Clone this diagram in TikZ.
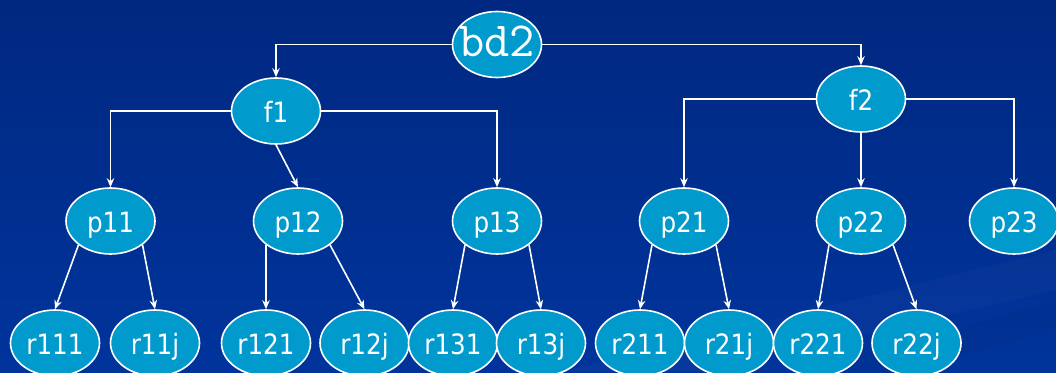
\documentclass[tikz,border=0pt]{standalone}
\usepackage{fontspec}
\setmainfont{DejaVu Sans}[FakeStretch=0.88]
\usetikzlibrary{shapes.geometric,arrows.meta}
\definecolor{bgtop}{RGB}{0,40,128}
\definecolor{bgbot}{RGB}{0,52,156}
\definecolor{nodefill}{RGB}{0,155,204}
\tikzset{
  treenode/.style={ellipse, draw=white, line width=1.6pt, fill=nodefill, text=white,
    minimum width=89pt, minimum height=66pt, inner sep=0pt,
    text height=24pt, text depth=0.3pt,
    font=\fontsize{28}{28}\selectfont},
  link/.style={draw=white, line width=1.6pt, -{Stealth[length=9pt,width=7.5pt]}}
}
\begin{document}
\begin{tikzpicture}[x=1pt,y=-1pt]
\useasboundingbox (0,0) rectangle (1056,372);
\clip (0,0) rectangle (1056,372);
\shade[top color=bgtop, bottom color=bgbot] (0,0) rectangle (1056,372);
\fill[white, opacity=0.025] (560,372) -- (1056,250) -- (1056,290) -- (700,372) -- cycle;
\fill[black, opacity=0.04] (800,372) -- (1056,300) -- (1056,330) -- (900,372) -- cycle;
% nodes
\node[treenode] (bd2) at (497,44.5) {\makebox[0pt]{\ttfamily\fontsize{49}{49}\selectfont bd2}};
\node[treenode] (f1) at (276,111) {f1};
\node[treenode] (f2) at (861,99) {f2};
\node[treenode] (p11) at (110.5,221) {p11};
\node[treenode] (p12) at (298,221) {p12};
\node[treenode] (p13) at (497,221) {p13};
\node[treenode] (p21) at (684,221) {p21};
\node[treenode] (p22) at (861,221) {p22};
\node[treenode] (p23) at (1014,221) {p23};
\node[treenode] (r111) at (55,343) {r111};
\node[treenode] (r11j) at (155,343) {r11j};
\node[treenode] (r121) at (266,343) {r121};
\node[treenode] (r12j) at (364.5,343) {r12j};
\node[treenode] (r131) at (453,343) {r131};
\node[treenode] (r13j) at (541,343) {r13j};
\node[treenode] (r211) at (640,343) {r211};
\node[treenode] (r21j) at (729,343) {r21j};
\node[treenode] (r221) at (818,343) {r221};
\node[treenode] (r22j) at (916.5,343) {r22j};
% connectors
\draw[link] (bd2.west) -| (f1.north);
\draw[link] (bd2.east) -| (f2.north);
\draw[link] (f1.west) -| (p11.north);
\draw[link] (f1.south) -- (p12.north);
\draw[link] (f1.east) -| (p13.north);
\draw[link] (f2.west) -| (p21.north);
\draw[link] (f2.south) -- (p22.north);
\draw[link] (f2.east) -| (p23.north);
\draw[link] (p11.south west) -- (r111.north);
\draw[link] (p11.south east) -- (r11j.north);
\draw[link] (p12.south west) -- (r121.north);
\draw[link] (p12.south east) -- (r12j.north);
\draw[link] (p13.south west) -- (r131.north);
\draw[link] (p13.south east) -- (r13j.north);
\draw[link] (p21.south west) -- (r211.north);
\draw[link] (p21.south east) -- (r21j.north);
\draw[link] (p22.south west) -- (r221.north);
\draw[link] (p22.south east) -- (r22j.north);
\end{tikzpicture}
\end{document}
